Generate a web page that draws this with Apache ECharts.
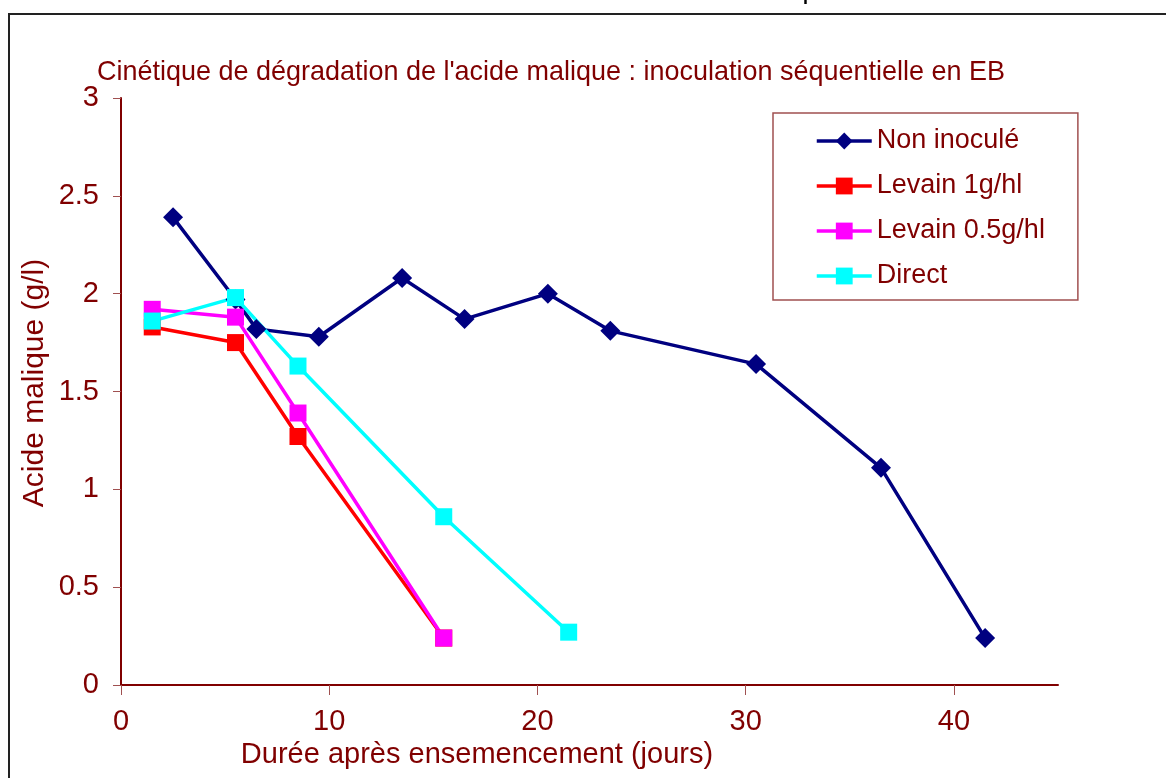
<!DOCTYPE html>
<html>
<head>
<meta charset="utf-8">
<script src="https://cdn.jsdelivr.net/npm/echarts@6/dist/echarts.min.js"></script>
<style>
html,body{margin:0;padding:0;background:#fff;}
#chart{width:1166px;height:778px;}
</style>
</head>
<body>
<div id="chart"></div>
<script>
// ---- data ----
const seriesNames = ['Non inoculé', 'Levain 1g/hl', 'Levain 0.5g/hl', 'Direct'];
const nonInoculeDays = [2.5, 5.5, 6.5, 9.5, 13.5, 16.5, 20.5, 23.5, 30.5, 36.5, 41.5];
const nonInoculeVals = [2.39, 1.97, 1.82, 1.78, 2.08, 1.87, 2.00, 1.81, 1.64, 1.11, 0.24];
const levain1Days = [1.5, 5.5, 8.5, 15.5];
const levain1Vals = [1.83, 1.75, 1.27, 0.24];
const levain05Days = [1.5, 5.5, 8.5, 15.5];
const levain05Vals = [1.92, 1.88, 1.39, 0.24];
const directDays = [1.5, 5.5, 8.5, 15.5, 21.5];
const directVals = [1.86, 1.98, 1.63, 0.86, 0.27];
const xTicks = [0, 10, 20, 30, 40];
const titleText = "Cinétique de dégradation de l'acide malique : inoculation séquentielle en EB";
const xName = 'Durée après ensemencement (jours)';
const yName = 'Acide malique (g/l)';

const zip = (a, b) => a.map((v, i) => [v, b[i]]);
const dark = '#800000';
const FONT = 'Liberation Sans, Arial, sans-serif';

function measure(text, size) {
  const c = document.createElement('canvas').getContext('2d');
  c.font = size + 'px ' + FONT;
  return c.measureText(text).width;
}
const titleSize = 28;
const titleScale = 908 / measure(titleText, titleSize);

const chart = echarts.init(document.getElementById('chart'), null, {renderer: 'canvas'});
const mk = (name, days, vals, color, symbol, size) => ({
  name, type: 'line', data: zip(days, vals),
  symbol, symbolSize: size, showSymbol: true,
  lineStyle: {color, width: 3.5},
  itemStyle: {color, borderWidth: 0},
  emphasis: {disabled: true},
  animation: false
});

chart.setOption({
  animation: false,
  backgroundColor: '#fff',
  textStyle: {fontFamily: FONT},
  grid: {left: 121, top: 98, width: 937, height: 587, outerBoundsMode: 'none', containLabel: false},
  xAxis: {
    type: 'value', min: 0, max: 45, interval: 10,
    axisLine: {show: true, lineStyle: {color: dark, width: 2}},
    axisTick: {show: true, inside: false, length: 10, customValues: xTicks, lineStyle: {color: '#a05050', width: 1}},
    axisLabel: {color: dark, fontSize: 29, fontFamily: FONT, margin: 22, customValues: xTicks},
    splitLine: {show: false}
  },
  yAxis: {
    type: 'value', min: 0, max: 3, interval: 0.5,
    axisLine: {show: true, lineStyle: {color: dark, width: 2}},
    axisTick: {show: true, inside: false, length: 8, lineStyle: {color: '#a05050', width: 1}},
    axisLabel: {color: dark, fontSize: 29, fontFamily: FONT, margin: 22},
    splitLine: {show: false}
  },
  legend: {
    orient: 'vertical', left: 773, top: 113,
    padding: [13, 33, 9, 42],
    itemWidth: 55, itemHeight: 21, itemGap: 15,
    borderColor: '#a05050', borderWidth: 1.5,
    backgroundColor: '#fff',
    lineStyle: {width: 3.5},
    textStyle: {color: dark, fontSize: 27, fontFamily: FONT, lineHeight: 30},
    data: seriesNames
  },
  graphic: [
    {type: 'rect', shape: {x: 9, y: 14, width: 1300, height: 900}, style: {fill: 'none', stroke: '#222', lineWidth: 2}, silent: true, z: -1},
    {type: 'text', x: 803, y: 4, style: {text: 'p', font: 'bold 18px ' + FONT, fill: '#000', verticalAlign: 'bottom'}},
    {type: 'text', x: 97, y: 72, scaleX: titleScale, style: {text: titleText, font: titleSize + 'px ' + FONT, fill: dark, verticalAlign: 'middle', align: 'left'}},
    {type: 'text', x: 477, y: 755, style: {text: xName, font: '29px ' + FONT, fill: dark, align: 'center', verticalAlign: 'middle'}},
    {type: 'text', x: 35, y: 383, rotation: Math.PI / 2, style: {text: yName, font: '30px ' + FONT, fill: dark, align: 'center', verticalAlign: 'middle'}}
  ],
  series: [
    mk(seriesNames[0], nonInoculeDays, nonInoculeVals, '#000080', 'diamond', 20),
    mk(seriesNames[1], levain1Days, levain1Vals, '#ff0000', 'rect', 17),
    mk(seriesNames[2], levain05Days, levain05Vals, '#ff00ff', 'rect', 17),
    mk(seriesNames[3], directDays, directVals, '#00ffff', 'rect', 17)
  ]
});
</script>
</body>
</html>
